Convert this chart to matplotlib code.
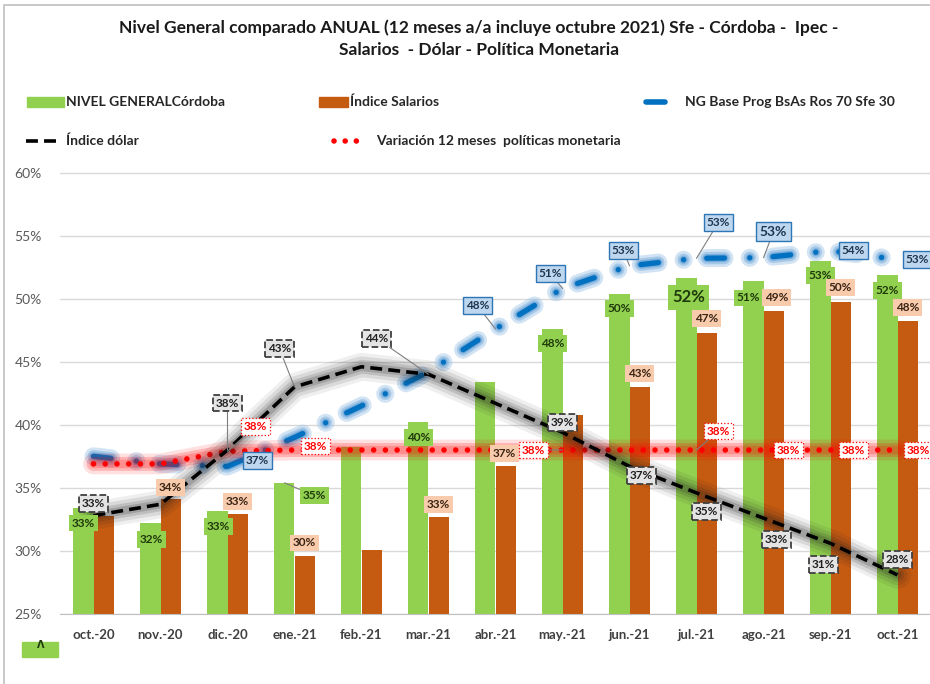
import matplotlib
matplotlib.use('Agg')
import matplotlib.pyplot as plt
import numpy as np
from matplotlib.lines import Line2D
from matplotlib.patches import Rectangle
import matplotlib.patheffects as pe

plt.rcParams['font.family'] = ['Lato', 'DejaVu Sans']

# ---------------- data ----------------
categories = ['oct.-20', 'nov.-20', 'dic.-20', 'ene.-21', 'feb.-21', 'mar.-21', 'abr.-21',
              'may.-21', 'jun.-21', 'jul.-21', 'ago.-21', 'sep.-21', 'oct.-21']
nivel_general = [33.4, 32.2, 33.2, 35.4, 38.2, 40.2, 43.4, 47.6, 50.4, 51.6, 51.4, 53.0, 51.9]
salarios = [32.8, 34.1, 32.9, 29.6, 30.1, 32.7, 36.7, 40.8, 43.0, 47.3, 49.0, 49.7, 48.2]
ng_base = [37.5, 36.9, 36.7, 39.0, 41.5, 44.2, 47.6, 50.8, 52.6, 53.2, 53.25, 53.8, 53.1]
dolar = [32.8, 33.7, 38.0, 43.0, 44.6, 44.0, 41.7, 39.4, 36.7, 34.6, 32.6, 30.6, 28.1]
pol_monetaria = [36.9, 36.9, 37.9, 38.0, 38.0, 38.0, 38.0, 38.0, 38.0, 38.0, 38.0, 38.0, 38.0]
yticks = [25, 30, 35, 40, 45, 50, 55, 60]

title1 = 'Nivel General comparado ANUAL (12 meses a/a incluye octubre 2021) Sfe - Córdoba -  Ipec -'
title2 = 'Salarios  - Dólar - Política Monetaria'
legend_names = ['NIVEL GENERALCórdoba', 'Índice Salarios', 'NG Base Prog BsAs Ros 70 Sfe 30',
                'Índice dólar', 'Variación 12 meses  políticas monetaria']

# label placement (pixel offsets from the point, leader flag)
green_off = [(0, -15, 0), (1, -16, 0), (1, -16, 0), (30, -13, 1), None, (0, -15, 0), None,
             (0, -15, 0), (0, -15, 0), (2, -19, 0), (-5, -17, 0), (0, -15, 0), (0, -16, 0)]
orange_off = [None, (0, 12, 0), (0, 13, 0), (0, 13, 0), None, (0, 12, 0), (-1, 13, 0), None,
              (0, 13, 0), (0, 14, 0), (3, 14, 0), (0, 15, 0), (0, 14, 0)]
blue_off = [None, None, (30, 6, 0), None, None, None, (-18, 23, 1), (-12, 15, 1), (-6, 15, 1),
            (22, 36, 1), (10, 26, 1), (23, 0, 0), (20, 0, 0)]
red_off = [None, None, (28, 25, 1), (21, 4, 0), None, None, None, (-29, 0, 1), None,
           (22, 19, 1), (25, 0, 0), (23, 0, 0), (21, 0, 0)]
black_off = [(0, 12, 0), None, (0, 47, 1), (-15, 38, 1), None, (-52, 36, 1), None, (0, 10, 0),
             (12, -9, 0), (10, -19, 0), (13, -21, 0), (-7, -21, 0), (0, 15, 0)]

W, H = 930, 684
GREEN = '#92D050'
ORANGE = '#C55A11'
BLUE = '#0070C0'
RED = '#FF0000'

fig = plt.figure(figsize=(W / 100, H / 100), dpi=100)
ax = fig.add_axes([60 / W, 70 / H, 871 / W, 441.5 / H])
x = np.arange(len(categories))

ax.set_xlim(-0.5, len(categories) - 0.5)
ax.set_ylim(25, 60)
ax.set_yticks(yticks)
ax.set_yticklabels([f'{t}%' for t in yticks])
ax.yaxis.grid(True, color='#D9D9D9', lw=1)
ax.set_axisbelow(True)
for s in ['left', 'right', 'top']:
    ax.spines[s].set_visible(False)
ax.spines['bottom'].set_color('#BFBFBF')
ax.tick_params(axis='both', length=0)
ax.tick_params(axis='y', labelsize=10, labelcolor='#595959', pad=13)
ax.set_xticks(x)
ax.set_xticklabels(categories, fontweight='bold', fontsize=9.5, color='#404040')
ax.tick_params(axis='x', pad=11)

bw = 0.3
ax.bar(x - 0.15, nivel_general, bw, color=GREEN, zorder=2)
ax.bar(x + 0.15, salarios, bw, color=ORANGE, zorder=2)

# blue dash-dot with glow
ax.plot(x, ng_base, color=BLUE, lw=3.8, dashes=(3.35, 4.8, 0.01, 4.4),
        dash_capstyle='round', solid_capstyle='round', zorder=3.5,
        path_effects=[pe.Stroke(linewidth=13, foreground='#9DC3E6', alpha=0.45),
                      pe.Stroke(linewidth=9, foreground='#9DC3E6', alpha=0.8),
                      pe.Stroke(linewidth=6, foreground='#5B9BD5', alpha=0.6),
                      pe.Normal()])

# red dotted with glow
ax.plot(x, pol_monetaria, color=RED, lw=15, alpha=0.12, solid_capstyle='round', zorder=3.6)
ax.plot(x, pol_monetaria, color=RED, lw=10, alpha=0.2, solid_capstyle='round', zorder=3.6)
ax.plot(x, pol_monetaria, color=RED, lw=6, alpha=0.2, solid_capstyle='round', zorder=3.6)
ax.plot(x, pol_monetaria, color=RED, lw=4, dashes=(0.01, 2.1), dash_capstyle='round', zorder=3.7)

# black dashed with shadow
for lw_, a_ in [(20, 0.07), (15, 0.10), (10, 0.14), (6, 0.18)]:
    ax.plot(x, dolar, color='#202020', lw=lw_, alpha=a_, solid_capstyle='round',
            solid_joinstyle='round', zorder=4.5)
ax.plot(x, dolar, color='black', lw=2.6, dashes=(3.3, 1.7), zorder=5)

# ---------------- data labels ----------------
def add_labels(xs, vals, offs, tc, fc, ec, lw, ls, big=None):
    for i, (xi, v, o) in enumerate(zip(xs, vals, offs)):
        if o is None:
            continue
        dx, dy, lead = o
        fs = 8.5
        if big and i in big:
            fs = big[i]
        ax.annotate(f'{v:.0f}%', (xi, v), xytext=(dx, dy), textcoords='offset pixels',
                    ha='center', va='center', fontsize=fs, fontweight='bold', color=tc,
                    bbox=dict(boxstyle='square,pad=0.25', fc=fc, ec=ec, lw=lw, ls=ls),
                    arrowprops=(dict(arrowstyle='-', color='#7F7F7F', lw=0.8,
                                     shrinkA=0, shrinkB=0) if lead else None),
                    zorder=6)

add_labels(x - 0.15, nivel_general, green_off, '#1F3A0A', GREEN, 'none', 0, '-', big={9: 12})
add_labels(x + 0.15, salarios, orange_off, '#3A2414', '#F8CBAD', 'none', 0, '-')
add_labels(x, ng_base, blue_off, '#1F3550', '#BDD7EE', '#2E75B6', 1.0, '-', big={10: 10})
add_labels(x, pol_monetaria, red_off, RED, 'white', RED, 0.9, ':')
add_labels(x, dolar, black_off, '#202020', '#E4E4E4', '#404040', 1.3, '--')

# ---------------- titles ----------------
fig.text(479 / W, 1 - 28 / H, title1, ha='center', va='center', fontsize=12.5,
         fontweight='bold', color='#1A1A1A')
fig.text(479 / W, 1 - 50 / H, title2, ha='center', va='center', fontsize=12.5,
         fontweight='bold', color='#1A1A1A')

# ---------------- legend ----------------
def fx(px):
    return px / W

def fy(py):
    return 1 - py / H

lfs = 10
fig.add_artist(Rectangle((fx(27), fy(107)), 37 / W, 10 / H, color=GREEN, transform=fig.transFigure))
fig.text(fx(66), fy(102), legend_names[0], ha='left', va='center', fontsize=lfs, fontweight='bold', color='#262626')
fig.add_artist(Rectangle((fx(319), fy(107)), 29 / W, 10 / H, color=ORANGE, transform=fig.transFigure))
fig.text(fx(350), fy(102), legend_names[1], ha='left', va='center', fontsize=lfs, fontweight='bold', color='#262626')
fig.add_artist(Line2D([fx(646), fx(665)], [fy(102), fy(102)], color=BLUE, lw=4,
                      solid_capstyle='round', transform=fig.transFigure))
fig.text(fx(685), fy(102), legend_names[2], ha='left', va='center', fontsize=lfs, fontweight='bold', color='#262626')
fig.add_artist(Line2D([fx(26), fx(62)], [fy(141), fy(141)], color='black', lw=2.6,
                      dashes=(3.3, 1.7), transform=fig.transFigure))
fig.text(fx(66), fy(141), legend_names[3], ha='left', va='center', fontsize=lfs, fontweight='bold', color='#262626')
fig.add_artist(Line2D([fx(334), fx(359)], [fy(141), fy(141)], color=RED, lw=4,
                      dashes=(0.01, 2.0), dash_capstyle='round', transform=fig.transFigure))
fig.text(fx(376), fy(141), legend_names[4], ha='left', va='center', fontsize=lfs, fontweight='bold', color='#262626')

# chart frame and stray artifact
fig.add_artist(Rectangle((fx(4), -0.05), 1.2, fy(5) + 0.05, fill=False, ec='#BFBFBF', lw=1.2,
                         transform=fig.transFigure))
fig.add_artist(Rectangle((fx(22), fy(657)), 36 / W, 15 / H, color=GREEN, transform=fig.transFigure))
fig.text(fx(41), fy(645), 'Λ', ha='center', va='center', fontsize=7, fontweight='bold',
         color='#1F3A0A', family=['DejaVu Sans'])

fig.savefig('out.png', dpi=100)
